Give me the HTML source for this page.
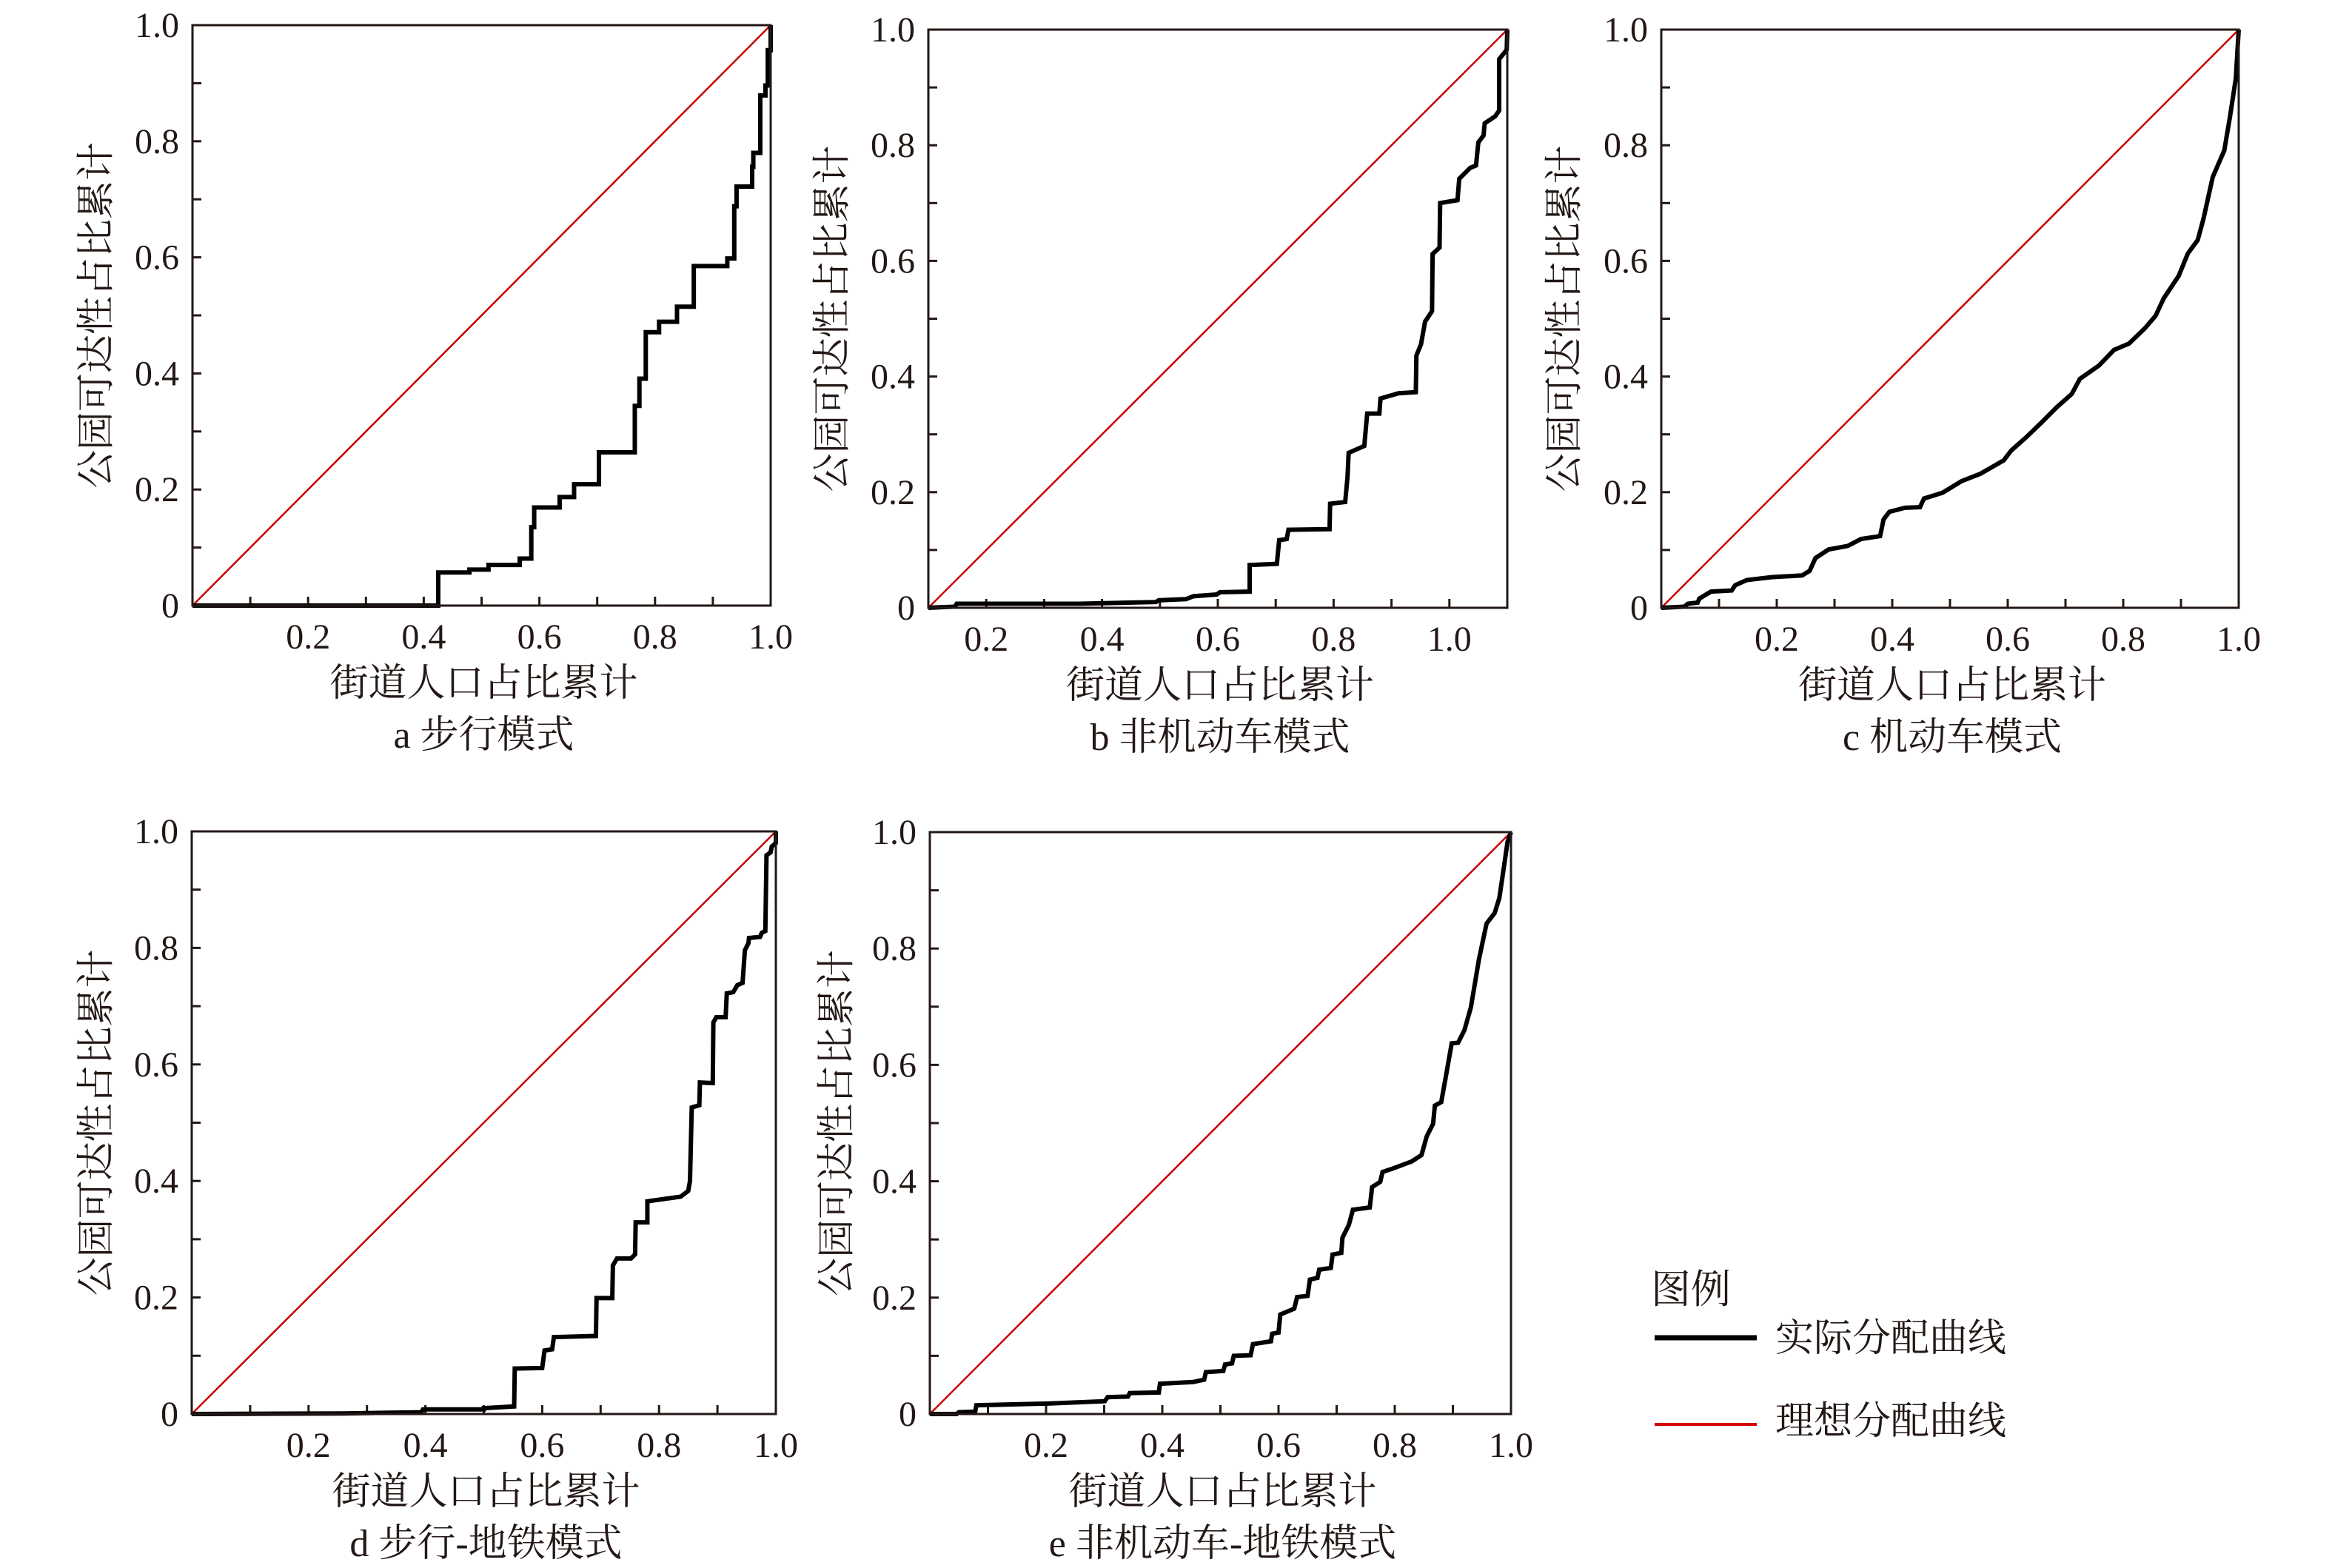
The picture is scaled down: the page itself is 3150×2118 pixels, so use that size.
<!DOCTYPE html>
<html><head><meta charset="utf-8"><style>
html,body{margin:0;padding:0;background:#fff;}
svg{display:block;}
text{font-family:"Liberation Serif","Noto Serif CJK SC",serif;fill:#231815;}
</style></head><body>
<svg id="fig" width="3150" height="2118" viewBox="0 0 3150 2118" xmlns="http://www.w3.org/2000/svg">
<g>
<text x="2230" y="1760" font-size="54">图例</text>
<line x1="2235" y1="1807" x2="2373" y2="1807" stroke="#000" stroke-width="7"/>
<text x="2398" y="1825" font-size="52">实际分配曲线</text>
<line x1="2235" y1="1924" x2="2373" y2="1924" stroke="#d40000" stroke-width="4"/>
<text x="2398" y="1937" font-size="52">理想分配曲线</text>
</g>
</svg>
<script>
// Panel a: 步行模式 (step)
const aX = [0,0.425,0.479,0.512,0.566,0.586,0.591,0.635,0.660,0.703,0.765,0.773,0.784,0.807,0.838,0.867,0.925,0.937,0.941,0.968,0.970,0.982,0.991,0.995,1.0];
const aY = [0,0.057,0.062,0.070,0.081,0.135,0.169,0.187,0.209,0.264,0.344,0.391,0.471,0.489,0.515,0.585,0.598,0.688,0.722,0.756,0.78,0.879,0.896,0.957,1.0];
// Panel b: 非机动车模式
const bX = [0.1,0.146,0.149,0.362,0.493,0.498,0.545,0.558,0.598,0.604,0.655,0.655,0.702,0.706,0.719,0.722,0.793,0.794,0.820,0.824,0.826,0.853,0.858,0.879,0.881,0.912,0.942,0.943,0.951,0.958,0.970,0.971,0.983,0.984,1.014,1.017,1.036,1.046,1.050,1.059,1.061,1.079,1.086,1.086,1.099,1.1];
const bY = [0,0.002,0.007,0.007,0.010,0.013,0.015,0.020,0.023,0.027,0.028,0.074,0.076,0.117,0.119,0.135,0.136,0.180,0.183,0.226,0.268,0.280,0.336,0.336,0.362,0.371,0.373,0.436,0.456,0.495,0.513,0.612,0.623,0.700,0.705,0.742,0.761,0.765,0.805,0.817,0.838,0.850,0.860,0.949,0.965,1.0];
// Panel c: 机动车模式
const cX = [0,0.04,0.046,0.063,0.066,0.086,0.122,0.128,0.148,0.191,0.244,0.257,0.267,0.29,0.323,0.346,0.379,0.385,0.395,0.422,0.448,0.455,0.487,0.52,0.553,0.593,0.606,0.632,0.659,0.685,0.711,0.725,0.758,0.784,0.81,0.837,0.856,0.87,0.896,0.912,0.929,0.939,0.955,0.975,0.985,0.995,1];
const cY = [0,0.002,0.007,0.009,0.016,0.028,0.030,0.039,0.048,0.053,0.056,0.064,0.086,0.101,0.107,0.119,0.124,0.153,0.166,0.173,0.174,0.189,0.199,0.219,0.232,0.255,0.272,0.295,0.321,0.347,0.37,0.396,0.419,0.446,0.457,0.483,0.505,0.535,0.574,0.613,0.636,0.673,0.745,0.791,0.85,0.916,1];
// Panel d: 步行-地铁模式
const dX = [0,0.26,0.393,0.396,0.5,0.5,0.552,0.553,0.6,0.604,0.617,0.62,0.692,0.693,0.72,0.721,0.728,0.752,0.759,0.76,0.78,0.78,0.801,0.837,0.85,0.853,0.856,0.869,0.87,0.892,0.893,0.898,0.914,0.916,0.927,0.934,0.943,0.947,0.953,0.954,0.973,0.976,0.982,0.984,0.991,0.993,1,1];
const dY = [0,0.001,0.003,0.008,0.008,0.010,0.013,0.078,0.079,0.109,0.111,0.132,0.134,0.199,0.199,0.255,0.267,0.267,0.274,0.329,0.329,0.365,0.368,0.373,0.383,0.4,0.526,0.53,0.569,0.568,0.672,0.681,0.681,0.722,0.724,0.736,0.74,0.796,0.808,0.817,0.819,0.826,0.829,0.959,0.964,0.974,0.98,1];
// Panel e: 非机动车-地铁模式
const eX = [0,0.046,0.05,0.078,0.08,0.203,0.301,0.306,0.341,0.344,0.394,0.396,0.453,0.472,0.475,0.505,0.508,0.52,0.523,0.552,0.556,0.587,0.589,0.6,0.603,0.627,0.632,0.65,0.654,0.667,0.67,0.69,0.693,0.708,0.71,0.721,0.728,0.757,0.761,0.775,0.779,0.797,0.829,0.846,0.855,0.866,0.869,0.88,0.889,0.898,0.909,0.92,0.931,0.945,0.958,0.972,0.98,0.989,0.994,1];
const eY = [0,0,0.003,0.004,0.015,0.018,0.022,0.029,0.03,0.036,0.037,0.052,0.055,0.059,0.072,0.074,0.085,0.087,0.1,0.101,0.12,0.125,0.138,0.14,0.171,0.181,0.201,0.203,0.231,0.234,0.248,0.251,0.274,0.277,0.303,0.325,0.351,0.355,0.39,0.399,0.416,0.422,0.434,0.445,0.477,0.499,0.53,0.536,0.586,0.637,0.638,0.66,0.699,0.782,0.843,0.861,0.887,0.948,0.983,1];
const xTickLabels = ["0.2","0.4","0.6","0.8","1.0"];
const yTickLabels = ["0","0.2","0.4","0.6","0.8","1.0"];
const titles = ["a 步行模式","b 非机动车模式","c 机动车模式","d 步行-地铁模式","e 非机动车-地铁模式"];

const NS = "http://www.w3.org/2000/svg";
const svg = document.getElementById('fig');
function mk(tag, attrs, parent){
  const e = document.createElementNS(NS, tag);
  for (const k in attrs) e.setAttribute(k, attrs[k]);
  (parent||svg).appendChild(e);
  return e;
}
const panels = [
  {id:'a', L:260, R:1041, T:34, B:818, x0:0, x1:1, xs:aX, ys:aY, step:true, yt:131},
  {id:'b', L:1254, R:2036, T:40, B:821, x0:0.1, x1:1.1, xs:bX, ys:bY, step:false, yt:1125},
  {id:'c', L:2244, R:3024, T:40, B:821, x0:0, x1:1, xs:cX, ys:cY, step:false, yt:2114},
  {id:'d', L:259, R:1048, T:1123, B:1910, x0:0, x1:1, xs:dX, ys:dY, step:false, yt:131},
  {id:'e', L:1256, R:2041, T:1124, B:1910, x0:0, x1:1, xs:eX, ys:eY, step:false, yt:1131}
];
panels.forEach((p, i) => {
  const g = mk('g', {});
  
  
  const sx = v => p.L + (v - p.x0) / (p.x1 - p.x0) * (p.R - p.L);
  const sy = v => p.B - v * (p.B - p.T);
  // ticks
  for (let k = 1; k < 10; k++) {
    const yv = k / 10;
    const t = mk('line', {x1:p.L, x2:p.L + 12, y1:sy(yv), y2:sy(yv), stroke:'#231815', 'stroke-width':3}, g);
    
    
  }
  for (let k = 1; k < 10; k++) {
    const xv = p.x0 + k / 10;
    const t = mk('line', {x1:sx(xv), x2:sx(xv), y1:p.B, y2:p.B - 12, stroke:'#231815', 'stroke-width':3}, g);
    
    
  }
  // ideal line
  const red = mk('line', {x1:sx(p.x0), y1:sy(0), x2:sx(p.x1), y2:sy(1), stroke:'#c80000', 'stroke-width':2.5}, g);
  
  
  // actual curve
  let pts = [];
  for (let j = 0; j < p.xs.length; j++) {
    if (p.step && j > 0) pts.push(sx(p.xs[j]) + ',' + sy(p.ys[j-1]));
    pts.push(sx(p.xs[j]) + ',' + sy(p.ys[j]));
  }
  const cur = mk('polyline', {points:pts.join(' '), fill:'none', stroke:'#000', 'stroke-width':6, 'stroke-linejoin':'miter'}, g);
  
  
  // frame
  const fr = mk('rect', {x:p.L, y:p.T, width:p.R - p.L, height:p.B - p.T, fill:'none', stroke:'#231815', 'stroke-width':3}, g);
  
  
  // y tick labels
  yTickLabels.forEach((lab, k) => {
    const t = mk('text', {x:p.L - 18, y:sy(k * 0.2) + 16, 'font-size':48, 'text-anchor':'end'}, g);
    t.textContent = lab;
    
    
  });
  // x tick labels
  xTickLabels.forEach((lab, k) => {
    const t = mk('text', {x:sx(0.2 * (k + 1)), y:p.B + 58, 'font-size':48, 'text-anchor':'middle'}, g);
    t.textContent = lab;
    
    
  });
  const cx = (p.L + p.R) / 2 + 3;
  const xt = mk('text', {x:cx, y:p.B + 122, 'font-size':52, 'text-anchor':'middle'}, g);
  xt.textContent = '街道人口占比累计';
  
  
  const pt = mk('text', {x:cx, y:p.B + 192, 'font-size':52, 'text-anchor':'middle'}, g);
  pt.textContent = titles[i];
  
  
  const cy = (p.T + p.B) / 2;
  const yt = mk('text', {x:p.yt, y:cy, 'font-size':52, 'text-anchor':'middle', 'dominant-baseline':'central', transform:'rotate(-90 ' + p.yt + ' ' + cy + ')'}, g);
  yt.textContent = '公园可达性占比累计';
  
  
});
</script>
</body></html>
